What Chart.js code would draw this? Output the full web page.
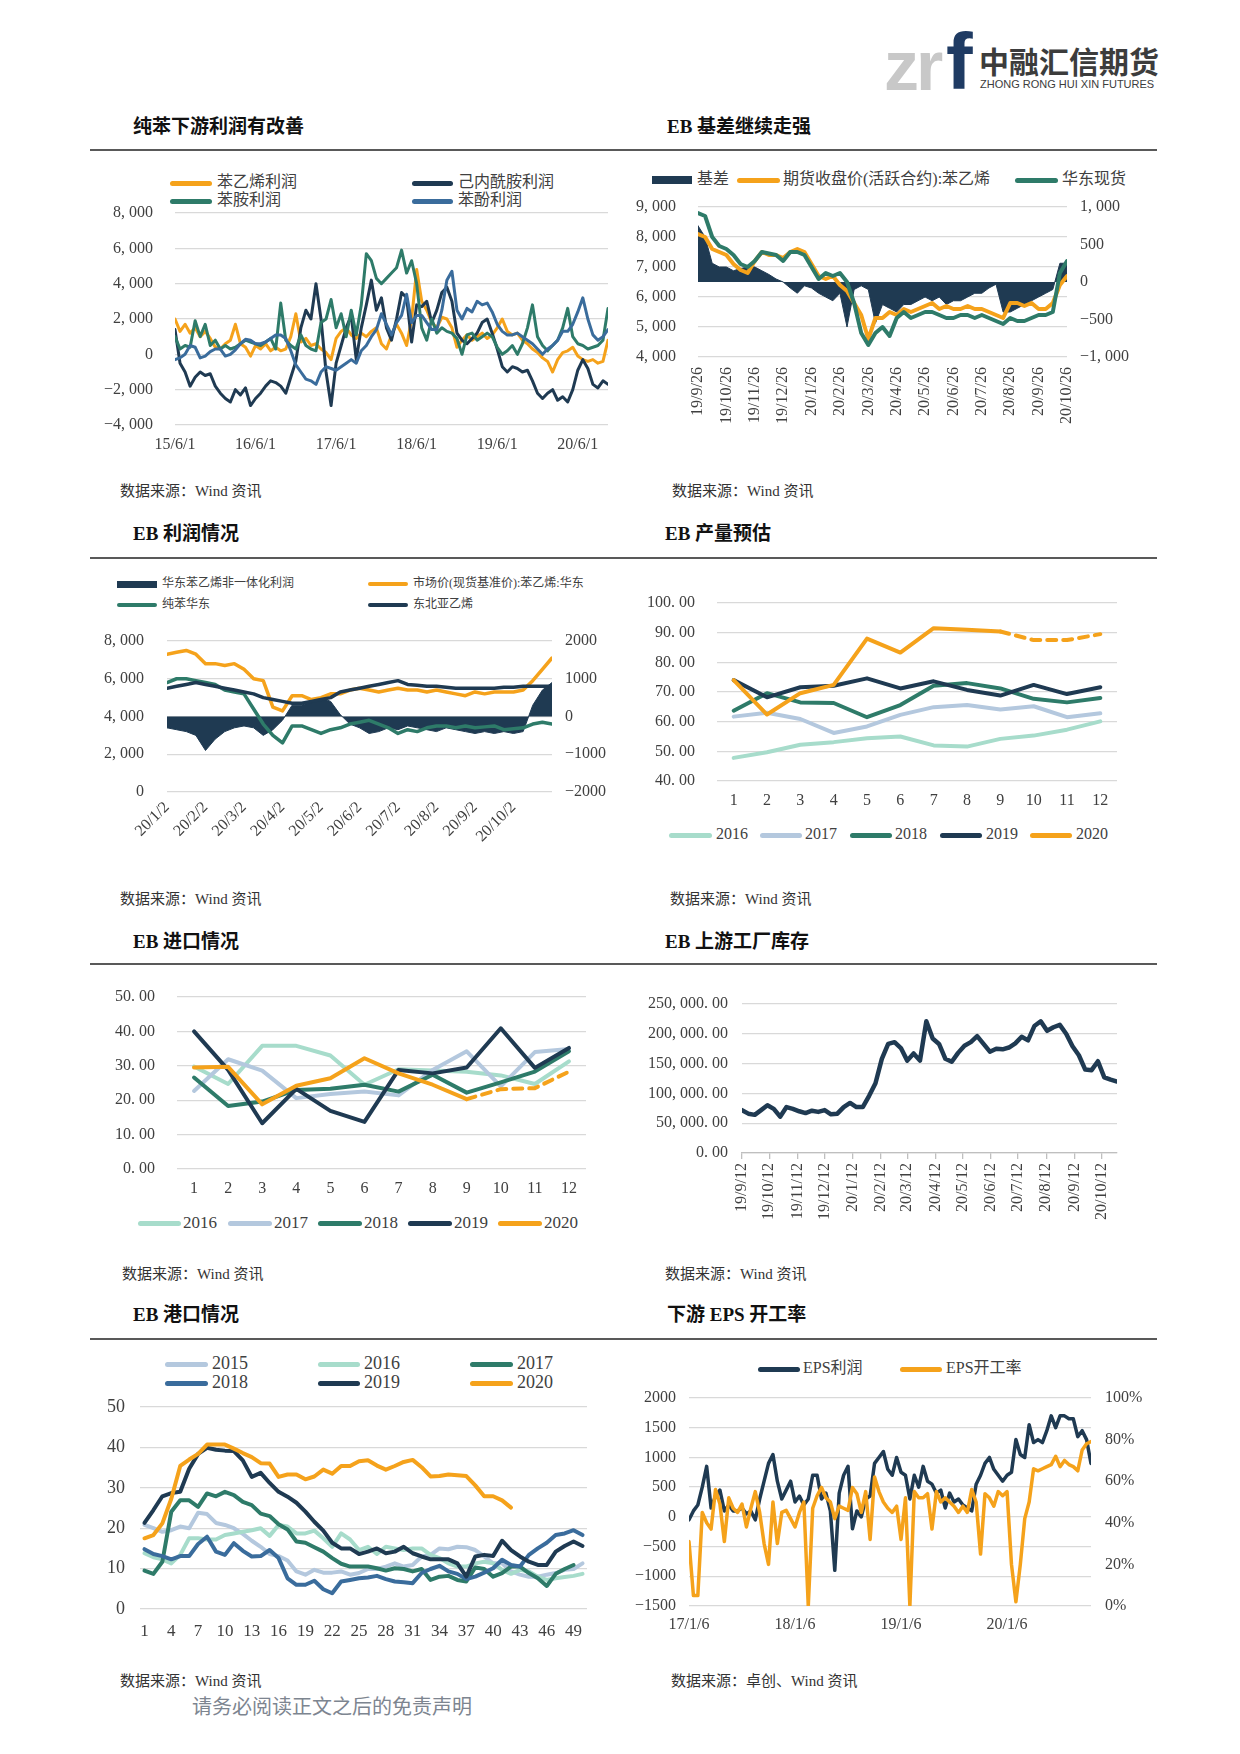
<!DOCTYPE html>
<html lang="zh-CN">
<head>
<meta charset="utf-8">
<title>苯乙烯产业链图表</title>
<script src="https://cdn.jsdelivr.net/npm/chart.js@4.4.1/dist/chart.umd.min.js"></script>
<style>
  body { margin: 0; background: #fff; }
  #page { position: relative; width: 1240px; height: 1754px; overflow: hidden; background: #fff;
          font-family: "Liberation Serif", "Noto Sans CJK SC", serif; color: #404040; }
  .t { position: absolute; white-space: nowrap; line-height: 1; }
  .title { font-size: 19px; font-weight: bold; color: #111; }
  .src { font-size: 15px; color: #333; }
  .rule { position: absolute; left: 90px; width: 1067px; height: 2px; background: #595959; }
</style>
</head>
<body>
<div id="page">
  <!-- logo -->
  <div class="t" style="left:884px;top:31px;font:bold 70px/1 'Liberation Sans',sans-serif;color:#c8c8c8;letter-spacing:-3px;">zr</div>
  <div class="t" style="left:946px;top:22px;font:bold 80px/1 'Liberation Sans',sans-serif;color:#1f3b63;">f</div>
  <div class="t" style="left:979px;top:45px;font:bold 30px/1 'Noto Sans CJK SC',sans-serif;color:#3c3c3c;">中融汇信期货</div>
  <div class="t" style="left:980px;top:79px;font:11px/1 'Liberation Sans',sans-serif;color:#3c3c3c;">ZHONG RONG HUI XIN FUTURES</div>

  <!-- section titles -->
  <div class="t title" style="left:133px;top:117px;">纯苯下游利润有改善</div>
  <div class="t title" style="left:667px;top:117px;">EB 基差继续走强</div>
  <div class="rule" style="top:149px;"></div>
  <div class="t title" style="left:133px;top:524px;">EB 利润情况</div>
  <div class="t title" style="left:665px;top:524px;">EB 产量预估</div>
  <div class="rule" style="top:557px;"></div>
  <div class="t title" style="left:133px;top:932px;">EB 进口情况</div>
  <div class="t title" style="left:665px;top:932px;">EB 上游工厂库存</div>
  <div class="rule" style="top:963px;"></div>
  <div class="t title" style="left:133px;top:1305px;">EB 港口情况</div>
  <div class="t title" style="left:667px;top:1305px;">下游 EPS 开工率</div>
  <div class="rule" style="top:1338px;"></div>

  <!-- sources -->
  <div class="t src" style="left:120px;top:484px;">数据来源：Wind 资讯</div>
  <div class="t src" style="left:672px;top:484px;">数据来源：Wind 资讯</div>
  <div class="t src" style="left:120px;top:892px;">数据来源：Wind 资讯</div>
  <div class="t src" style="left:670px;top:892px;">数据来源：Wind 资讯</div>
  <div class="t src" style="left:122px;top:1267px;">数据来源：Wind 资讯</div>
  <div class="t src" style="left:665px;top:1267px;">数据来源：Wind 资讯</div>
  <div class="t src" style="left:120px;top:1674px;">数据来源：Wind 资讯</div>
  <div class="t src" style="left:671px;top:1674px;">数据来源：卓创、Wind 资讯</div>

  <div class="t" style="left:192px;top:1697px;font-size:20px;color:#7d8590;">请务必阅读正文之后的免责声明</div>
</div>

<script>
// ---------- chart 1: 纯苯下游利润 (step = 3/4 month, 16 steps per year) ----------
const c1TickIdx = [0, 16, 32, 48, 64, 80];
const c1TickLabels = ['15/6/1', '16/6/1', '17/6/1', '18/6/1', '19/6/1', '20/6/1'];
const profitSM = [2000,1300,1700,1200,1500,1000,1300,900,400,300,
  600,800,1700,600,400,-100,500,300,600,200,
  400,200,300,1000,2300,700,900,500,600,300,
  100,-300,900,1300,1500,1100,900,1200,1000,1300,
  1500,600,300,1100,1700,1200,500,2000,4800,3000,
  2500,1800,1500,2100,2000,1500,400,800,1100,800,
  1000,1200,900,1100,1500,2000,1300,1100,1200,800,
  600,300,100,-200,-400,-1000,-300,100,200,400,
  -100,-300,-400,-300,-500,-400,800];
const profitCPL = [1400,-500,-1000,-1800,-1300,-1000,-1200,-1100,-1800,-2200,
  -2500,-2700,-2000,-2300,-1900,-2900,-2500,-2200,-1800,-1500,
  -1600,-1800,-2200,-1300,-400,1500,2500,2000,4000,2000,
  -1000,-2900,-500,500,1500,2200,-300,1500,2800,4200,
  2500,3200,1500,800,2000,3500,3200,700,2800,2700,
  3000,1800,2500,3500,3800,3000,1200,800,600,900,
  1200,1800,2000,1200,300,-700,-1000,-700,-800,-1000,
  -900,-1500,-2200,-2500,-2200,-2000,-2600,-2400,-2700,-2000,
  -900,-300,-800,-1700,-1900,-1500,-1700];
const profitAN = [1000,300,500,400,1900,1000,1700,500,800,300,
  500,300,400,600,800,700,600,500,700,900,
  300,2900,800,500,300,1100,500,300,200,1800,
  2000,3100,1500,2300,1000,2500,1100,2800,5700,5300,
  4300,4000,4300,4600,4900,5900,4600,5300,4000,1500,
  800,2000,1200,1500,1300,1200,900,0,1100,1200,
  800,1000,1200,1000,400,0,200,500,0,600,
  1500,2800,1000,500,200,500,800,1500,2600,1000,
  600,500,300,400,500,800,2600];
const profitPH = [-300,-200,0,500,400,-200,-100,150,300,300,
  -100,0,250,600,850,800,600,600,700,900,
  1100,1100,900,200,-600,-1000,-1400,-1500,-1700,-1000,
  -700,-800,-900,-700,-500,-300,-500,200,500,1000,
  1400,2300,1700,1100,1800,2200,3400,1800,2200,2200,
  1800,1400,1400,2500,4200,4700,2500,2000,2600,2400,
  3000,2800,2900,2400,1700,1300,1100,1100,1200,1000,
  800,600,300,0,300,500,800,1300,1300,1700,
  2400,3200,2000,1100,800,1000,1400];

// ---------- chart 2: EB 基差 (step = 1/4 month) ----------
const c2TickIdx = [0,4,8,12,16,20,24,28,32,36,40,44,48,52];
const c2TickLabels = ['19/9/26','19/10/26','19/11/26','19/12/26','20/1/26','20/2/26','20/3/26',
  '20/4/26','20/5/26','20/6/26','20/7/26','20/8/26','20/9/26','20/10/26'];
const futuresSM = [8100,8000,7600,7500,7400,7100,6900,6800,7200,7500,
  7400,7400,7300,7500,7600,7500,7100,6700,6600,6700,
  6400,6200,5800,5400,4600,5300,5300,5500,5400,5600,
  5500,5600,5700,5800,5600,5700,5600,5600,5700,5600,
  5600,5500,5400,5300,5800,5800,5700,5800,5600,5600,
  5800,6400,6700];
const spotEastSM = [8800,8700,8000,7700,7600,7400,7100,7000,7200,7500,
  7450,7400,7200,7500,7500,7400,7000,6600,6800,6700,
  6800,6500,5800,4800,4400,4800,5000,4700,5300,5500,
  5300,5400,5500,5500,5400,5300,5300,5400,5400,5300,
  5400,5300,5200,5100,5300,5200,5200,5300,5400,5400,
  5500,6800,7200];
const basisSM = [750,600,250,200,200,150,180,200,200,150,
  100,40,0,-80,-150,-50,-80,-150,-200,-250,
  -150,-600,-100,-50,-100,-550,-300,-350,-400,-300,
  -300,-250,-200,-250,-200,-300,-250,-250,-200,-150,
  -150,-80,-30,-400,-400,-350,-300,-250,-200,-150,
  -100,250,250];

// ---------- chart 3: EB 利润情况 (step = 1/4 month) ----------
const c3TickIdx = [0,4,8,12,16,20,24,28,32,36];
const c3TickLabels = ['20/1/2','20/2/2','20/3/2','20/4/2','20/5/2','20/6/2','20/7/2','20/8/2','20/9/2','20/10/2'];
const ebProfit = [-300,-350,-400,-500,-900,-600,-400,-300,-250,-300,
  -500,-350,-100,300,300,400,500,400,50,-200,
  -300,-450,-400,-300,-350,-250,-300,-350,-400,-300,
  -350,-400,-450,-400,-450,-400,-450,-400,300,700,
  900];
const marketSM = [7300,7400,7500,7300,6800,6800,6700,6800,6500,6000,
  5900,4500,4300,5100,5100,4900,5000,5200,5200,5400,
  5500,5400,5300,5400,5500,5400,5400,5300,5400,5300,
  5200,5100,5300,5200,5300,5300,5300,5400,5900,6500,
  7100];
const benzeneEast = [5800,6000,6000,5900,5800,5700,5400,5300,5200,4400,
  3600,3000,2600,3500,3500,3300,3100,3300,3400,3600,
  3700,3800,3600,3400,3100,3300,3200,3400,3500,3500,
  3400,3500,3400,3450,3500,3300,3350,3400,3600,3700,
  3600];
const ethyleneNEA = [5500,5600,5700,5800,5700,5600,5500,5400,5300,5200,
  5000,4900,4800,4700,4700,4800,4900,5000,5300,5400,
  5500,5600,5700,5800,5900,5700,5650,5600,5600,5550,
  5500,5500,5500,5500,5500,5550,5550,5600,5600,5600,
  5600];

// ---------- chart 4: EB 产量预估 ----------
const months = ['1','2','3','4','5','6','7','8','9','10','11','12'];
const out2016 = [47.8,49.7,52.2,53.1,54.4,55.0,52.0,51.6,54.2,55.3,57.3,60.1];
const out2017 = [61.7,63.0,60.9,56.2,58.4,62.3,64.9,65.6,64.1,65.2,61.5,62.8];
const out2018 = [63.7,69.6,66.5,66.3,61.5,65.6,72.1,73.0,71.2,67.7,66.5,68.0];
const out2019 = [74.0,68.2,71.6,72.1,74.6,71.2,73.6,70.7,68.8,72.4,69.3,71.6];
const out2020 = [74.0,62.4,69.6,72.4,88.0,83.3,91.5,91.0,90.4,87.5,87.5,89.5];

// ---------- chart 5: EB 进口情况 ----------
const imp2016 = [29.8,24.7,35.8,35.8,33.0,24.5,29.0,28.6,28.3,27.2,24.7,31.3];
const imp2017 = [22.7,31.9,28.6,20.6,21.8,22.5,21.4,28.8,34.2,24.0,34.0,34.9];
const imp2018 = [26.6,18.3,19.6,23.0,23.3,24.5,22.5,27.4,22.2,25.2,28.3,34.2];
const imp2019 = [40.0,28.8,13.3,23.3,16.9,13.7,28.8,27.8,29.5,40.9,29.4,35.2];
const imp2020 = [29.5,29.7,18.8,24.2,26.4,32.2,27.8,24.5,20.3,23.2,23.5,28.3];

// ---------- chart 6: EB 上游工厂库存 (weekly, x in days since 19/9/12) ----------
const invTickDays = [0,30,61,91,122,153,182,213,243,274,304,335,366,396];
const invTickLabels = ['19/9/12','19/10/12','19/11/12','19/12/12','20/1/12','20/2/12','20/3/12',
  '20/4/12','20/5/12','20/6/12','20/7/12','20/8/12','20/9/12','20/10/12'];
const inventory = [72000,66000,64000,72000,80000,74000,61000,77000,74000,70000,
  67000,71000,69000,72000,65000,66000,77000,84000,77000,77000,
  96000,117000,158000,183000,186000,176000,155000,167000,155000,221000,
  192000,183000,158000,153000,168000,180000,186000,196000,183000,170000,
  175000,174000,177000,184000,195000,189000,213000,221000,205000,211000,
  215000,200000,179000,164000,140000,139000,154000,127000,123000,120000];

// ---------- chart 7: EB 港口情况 (weeks) ----------
const weeks = [1,2,3,4,5,6,7,8,9,10,11,12,13,14,15,16,17,18,19,20,21,22,23,24,25,
  26,27,28,29,30,31,32,33,34,35,36,37,38,39,40,41,42,43,44,45,46,47,48,49,50];
const port2015 = [20.8,20.0,19.1,19.5,20.4,20.0,23.8,23.5,21.3,20.8,
  20.0,18.6,16.9,15.4,13.6,13.1,12.0,9.3,8.5,9.7,
  9.0,9.0,9.3,8.5,8.9,9.9,9.9,10.5,11.3,10.5,
  10.9,13.0,13.4,15.0,14.8,15.4,15.3,14.6,13.0,11.3,
  11.3,9.3,8.5,8.0,8.0,8.5,8.9,9.7,9.9,11.3];
const port2016 = [13.8,12.8,12.3,11.3,13.4,17.5,17.5,17.2,17.2,18.3,
  18.7,19.1,19.5,20.0,18.1,20.8,20.4,18.7,18.7,19.4,
  17.5,15.4,18.7,17.2,14.6,15.4,13.6,15.4,15.0,14.6,
  15.0,15.0,13.4,12.6,11.3,10.5,10.5,11.3,11.7,11.3,
  9.7,8.7,9.7,9.3,8.0,7.2,7.6,7.9,8.2,8.7];
const port2017 = [9.5,8.7,11.7,24.1,26.9,26.9,25.3,28.6,27.9,29.0,
  28.2,26.5,25.7,23.6,23.0,21.0,19.7,16.7,16.4,15.3,
  14.2,12.6,11.2,10.5,10.5,10.5,10.1,9.5,10.1,9.9,
  9.3,9.9,7.2,8.0,8.2,7.2,6.8,10.3,9.9,8.0,
  8.9,10.5,10.5,8.9,7.6,5.7,8.7,9.9,10.9,null];
const port2018 = [14.8,13.6,13.1,12.3,13.1,13.1,16.1,17.9,14.2,13.4,
  16.3,14.4,13.0,13.1,14.6,12.6,7.6,6.0,6.0,7.0,
  4.9,3.9,6.8,7.2,7.6,7.8,8.2,7.4,6.8,6.6,
  6.4,8.9,9.9,10.7,9.3,8.7,7.4,8.0,9.0,10.1,
  12.2,10.9,10.5,13.4,15.0,16.4,18.3,18.7,19.5,18.3];
const port2019 = [21.3,24.5,27.9,28.7,29.0,34.7,38.4,39.9,39.4,39.2,
  39.1,36.8,32.7,33.7,31.2,29.0,27.8,26.3,24.1,21.6,
  19.4,16.4,15.0,15.0,13.6,14.2,15.0,13.8,14.2,15.4,
  13.8,13.0,12.3,12.3,12.3,11.3,8.0,13.0,13.4,13.1,
  16.9,14.6,13.0,11.7,10.9,10.9,14.2,15.6,16.7,15.6];
const port2020 = [17.5,18.3,21.2,27.3,35.4,37.0,38.4,40.7,40.7,40.7,
  39.7,38.6,37.6,36.1,36.0,32.7,33.3,33.3,32.1,32.8,
  34.5,33.5,35.4,35.4,36.6,36.8,35.5,34.5,35.4,36.4,
  36.9,35.1,32.8,32.9,33.3,33.1,32.9,30.6,27.9,27.9,
  26.9,25.1];

// ---------- chart 8: 下游 EPS (step = half month, 24 per year) ----------
const c8TickIdx = [0, 24, 48, 72];
const c8TickLabels = ['17/1/6', '18/1/6', '19/1/6', '20/1/6'];
const epsProfit = [-50,100,200,500,850,150,350,450,100,200,
  100,100,150,50,100,-50,300,600,900,1050,
  600,300,450,600,250,350,200,300,700,700,
  300,400,100,-900,400,700,850,-200,100,0,
  300,350,900,1000,1100,800,700,1000,750,700,
  300,700,500,850,600,550,400,450,150,400,
  250,300,200,150,100,550,700,900,1000,800,
  700,600,700,750,1300,1050,1000,1550,1250,1300,
  1250,1450,1700,1500,1700,1700,1650,1650,1350,1450,
  1300,900];
const epsRate = [31,5,5,45,40,37,56,49,31,52,
  47,45,49,38,47,55,45,30,20,50,
  30,45,46,42,38,45,50,0,47,53,
  57,52,50,42,48,47,46,57,54,45,
  55,32,62,55,50,47,45,48,32,52,
  0,55,52,52,54,37,55,50,52,50,
  48,45,48,45,56,50,25,54,52,48,
  55,53,55,20,2,20,42,50,66,65,
  66,67,68,72,67,70,68,67,65,75,
  78,79];

// ---------- styling ----------
const FONT = '"Liberation Serif", "Noto Sans CJK SC", serif';
const ORANGE = '#F5A21B', NAVY = '#1F3A52', GREEN = '#2E7B69', BLUE = '#3A6C9C',
      TEAL = '#A7DCCB', LBLUE = '#B4C8DE', GRID = '#D9D9D9';

Chart.defaults.font.family = FONT;
Chart.defaults.font.size = 16;
Chart.defaults.color = '#404040';

const page = document.getElementById('page');

function makeCanvas(l, t, w, h) {
  const d = document.createElement('div');
  d.style.cssText = 'position:absolute;left:' + l + 'px;top:' + t + 'px;width:' + w + 'px;height:' + h + 'px;';
  const c = document.createElement('canvas');
  d.appendChild(c);
  page.appendChild(d);
  return c;
}

function legend(x1, x2, y, color, thick, label, tx, size, square) {
  const ln = document.createElement('div');
  ln.style.cssText = 'position:absolute;left:' + x1 + 'px;top:' + (y - thick / 2) + 'px;width:' + (x2 - x1) +
    'px;height:' + thick + 'px;background:' + color + ';border-radius:' + (square ? 0 : thick / 2) + 'px;';
  page.appendChild(ln);
  const tt = document.createElement('div');
  tt.className = 't';
  tt.style.cssText = 'left:' + tx + 'px;top:' + (y - size / 2 - 1) + 'px;font-size:' + size + 'px;line-height:' + size + 'px;color:#404040;';
  tt.textContent = label;
  page.appendChild(tt);
}

function minus(s) { return s.replace('-', '\u2212'); }
function fmtComma(v) { return minus(v.toLocaleString('en-US').replace(/,/g, ', ')); }
function fmtPlain(v) { return minus(String(v)); }
function fmtDec(v) { return v.toFixed(2).replace('.', '. '); }
function fmtBig(v) {
  return v.toLocaleString('en-US', { minimumFractionDigits: 2, maximumFractionDigits: 2 })
    .replace(/,/g, ', ').replace('.', '. ');
}

function yScale(position, min, max, step, width, pad, fmt, grid, size) {
  return {
    position: position, min: min, max: max,
    ticks: { stepSize: step, padding: pad, callback: fmt, font: { size: size || 16 } },
    grid: { display: grid, color: GRID, lineWidth: 1.3, drawTicks: false },
    border: { display: false },
    afterFit: function (s) { s.width = width; }
  };
}

function xIndex(max, tickIdx, labels, height, pad, rot) {
  return {
    type: 'linear', min: 0, max: max,
    afterBuildTicks: function (s) { s.ticks = tickIdx.map(function (v) { return { value: v }; }); },
    ticks: { autoSkip: false, padding: pad, minRotation: rot, maxRotation: rot,
             callback: function (v, i) { return labels[i]; } },
    grid: { display: false, drawTicks: false },
    border: { display: false },
    afterFit: function (s) { s.height = height; }
  };
}

function xCategory(height, pad, size, every) {
  return {
    type: 'category', offset: true,
    ticks: { autoSkip: false, padding: pad, maxRotation: 0, font: { size: size || 16 },
             callback: function (v, i) { return i % (every || 1) === 0 ? this.getLabelForValue(v) : ''; } },
    grid: { display: false, drawTicks: false },
    border: { display: false },
    afterFit: function (s) { s.height = height; }
  };
}

function indexed(values) { return values.map(function (v, i) { return { x: i, y: v }; }); }

function line(data, color, width, order, extra) {
  const ds = { data: data, borderColor: color, backgroundColor: color, borderWidth: width,
               pointRadius: 0, fill: false, tension: 0, order: order,
               borderJoinStyle: 'round', borderCapStyle: 'round' };
  return Object.assign(ds, extra || {});
}

// padTop must be >= y tick padding + half label height, otherwise Chart.js grows it
function options(padTop, padRight, scales) {
  return {
    responsive: true, maintainAspectRatio: false, animation: false,
    layout: { padding: { top: padTop, right: padRight, left: 0, bottom: 0 } },
    plugins: { legend: { display: false }, tooltip: { enabled: false } },
    scales: scales
  };
}

const dash2020 = { segment: { borderDash: function (ctx) { return ctx.p0DataIndex >= 8 ? [9, 7] : undefined; } } };

// ---------- chart 1 ----------
legend(170, 212, 183, ORANGE, 5, '苯乙烯利润', 217, 16);
legend(412, 453, 183, NAVY, 5, '己内酰胺利润', 458, 16);
legend(170, 212, 201, GREEN, 5, '苯胺利润', 217, 16);
legend(412, 453, 201, BLUE, 5, '苯酚利润', 458, 16);
new Chart(makeCanvas(100, 179, 520, 281), {
  type: 'line',
  data: { datasets: [
    line(indexed(profitSM), ORANGE, 3, 4),
    line(indexed(profitCPL), NAVY, 3, 3),
    line(indexed(profitAN), GREEN, 3, 2),
    line(indexed(profitPH), BLUE, 3, 1)
  ] },
  options: options(34, 12, {
    x: xIndex(86, c1TickIdx, c1TickLabels, 35, 10, 0),
    y: yScale('left', -4000, 8000, 2000, 75, 22, fmtComma, true)
  })
});

// ---------- chart 2 ----------
legend(652, 692, 180, NAVY, 8, '基差', 697, 16, true);
legend(737, 780, 180, ORANGE, 5, '期货收盘价(活跃合约):苯乙烯', 783, 16);
legend(1015, 1058, 180, GREEN, 5, '华东现货', 1062, 16);
new Chart(makeCanvas(620, 173, 520, 277), {
  type: 'line',
  data: { datasets: [
    line(indexed(basisSM), NAVY, 1, 3, { yAxisID: 'y2', fill: 'origin' }),
    line(indexed(futuresSM), ORANGE, 4, 2),
    line(indexed(spotEastSM), GREEN, 4, 1)
  ] },
  options: options(34, 0, {
    x: xIndex(52, c2TickIdx, c2TickLabels, 93, 10, 90),
    y: yScale('left', 4000, 9000, 1000, 78, 22, fmtComma, true),
    y2: yScale('right', -1000, 1000, 500, 73, 13, fmtComma, false)
  })
});

// ---------- chart 3 ----------
legend(117, 157, 584, NAVY, 7, '华东苯乙烯非一体化利润', 162, 12, true);
legend(368, 408, 584, ORANGE, 4, '市场价(现货基准价):苯乙烯:华东', 413, 12);
legend(117, 157, 605, GREEN, 4, '纯苯华东', 162, 12);
legend(368, 408, 605, NAVY, 4, '东北亚乙烯', 413, 12);
new Chart(makeCanvas(95, 606, 525, 274), {
  type: 'line',
  data: { datasets: [
    line(indexed(ebProfit), NAVY, 1, 4, { yAxisID: 'y2', fill: 'origin' }),
    line(indexed(marketSM), ORANGE, 3.5, 3),
    line(indexed(benzeneEast), GREEN, 3.5, 2),
    line(indexed(ethyleneNEA), NAVY, 3.5, 1)
  ] },
  options: options(35, 0, {
    x: xIndex(40, c3TickIdx, c3TickLabels, 88, 6, 45),
    y: yScale('left', 0, 8000, 2000, 72, 23, fmtComma, true),
    y2: yScale('right', -2000, 2000, 1000, 68, 13, fmtPlain, false)
  })
});

// ---------- chart 4 ----------
[[669, 712, 716, TEAL, '2016'], [760, 802, 805, LBLUE, '2017'], [850, 892, 895, GREEN, '2018'],
 [940, 982, 986, NAVY, '2019'], [1030, 1072, 1076, ORANGE, '2020']].forEach(function (it) {
  legend(it[0], it[1], 835, it[3], 5, it[4], it[2], 16);
});
new Chart(makeCanvas(625, 569, 505, 246), {
  type: 'line',
  data: { labels: months, datasets: [
    line(out2016, TEAL, 4, 5),
    line(out2017, LBLUE, 4, 4),
    line(out2018, GREEN, 4, 3),
    line(out2019, NAVY, 4, 2),
    line(out2020, ORANGE, 4, 1, dash2020)
  ] },
  options: options(34, 13, {
    x: xCategory(34, 10),
    y: yScale('left', 40, 100, 10, 92, 22, fmtDec, true)
  })
});

// ---------- chart 5 ----------
[[138, 181, 183, TEAL, '2016'], [228, 272, 274, LBLUE, '2017'], [318, 362, 364, GREEN, '2018'],
 [408, 452, 454, NAVY, '2019'], [498, 542, 544, ORANGE, '2020']].forEach(function (it) {
  legend(it[0], it[1], 1223, it[3], 5, it[4], it[2], 17);
});
new Chart(makeCanvas(100, 963, 500, 242), {
  type: 'line',
  data: { labels: months, datasets: [
    line(imp2016, TEAL, 4, 5),
    line(imp2017, LBLUE, 4, 4),
    line(imp2018, GREEN, 4, 3),
    line(imp2019, NAVY, 4, 2),
    line(imp2020, ORANGE, 4, 1, dash2020)
  ] },
  options: options(34, 14, {
    x: xCategory(36, 10),
    y: yScale('left', 0, 50, 10, 77, 22, fmtDec, true)
  })
});

// ---------- chart 6 ----------
new Chart(makeCanvas(625, 978, 505, 272), {
  type: 'line',
  data: { datasets: [
    line(inventory.map(function (v, i) { return { x: i * 7, y: v }; }), NAVY, 4.5, 1)
  ] },
  options: options(26, 13, {
    x: {
      type: 'linear', min: 0, max: 413,
      afterBuildTicks: function (s) { s.ticks = invTickDays.map(function (v) { return { value: v }; }); },
      ticks: { autoSkip: false, padding: 4, minRotation: 90, maxRotation: 90,
               callback: function (v, i) { return invTickLabels[i]; } },
      grid: { drawOnChartArea: false, drawTicks: true, tickLength: 6, color: '#BFBFBF', lineWidth: 1.3 },
      border: { display: true, color: '#BFBFBF', width: 1.3 },
      afterFit: function (s) { s.height = 97; }
    },
    y: yScale('left', 0, 250000, 50000, 117, 14, fmtBig, true)
  })
});

// ---------- chart 7 ----------
[[165, 208, 212, 1364, LBLUE, '2015'], [318, 360, 364, 1364, TEAL, '2016'], [470, 513, 517, 1364, GREEN, '2017'],
 [165, 208, 212, 1383, BLUE, '2018'], [318, 360, 364, 1383, NAVY, '2019'], [470, 513, 517, 1383, ORANGE, '2020']]
  .forEach(function (it) { legend(it[0], it[1], it[3], it[4], 5, it[5], it[2], 18); });
new Chart(makeCanvas(95, 1379, 505, 271), {
  type: 'line',
  data: { labels: weeks, datasets: [
    line(port2015, LBLUE, 4, 6),
    line(port2016, TEAL, 4, 5),
    line(port2017, GREEN, 4, 4),
    line(port2018, BLUE, 4, 3),
    line(port2019, NAVY, 4, 2),
    line(port2020, ORANGE, 4, 1)
  ] },
  options: options(28, 13, {
    x: xCategory(41, 12, 17, 3),
    y: yScale('left', 0, 50, 10, 45, 15, fmtPlain, true, 18)
  })
});

// ---------- chart 8 ----------
legend(758, 800, 1369, NAVY, 5, 'EPS利润', 803, 16);
legend(900, 942, 1369, ORANGE, 5, 'EPS开工率', 946, 16);
new Chart(makeCanvas(620, 1371, 530, 274), {
  type: 'line',
  data: { datasets: [
    line(indexed(epsProfit), NAVY, 3.5, 2),
    line(indexed(epsRate), ORANGE, 3.5, 1, { yAxisID: 'y2' })
  ] },
  options: options(27, 0, {
    x: xIndex(91, c8TickIdx, c8TickLabels, 39, 9, 0),
    y: yScale('left', -1500, 2000, 500, 69, 13, fmtPlain, true),
    y2: yScale('right', 0, 100, 20, 59, 14, function (v) { return v + '%'; }, false)
  })
});
</script>
</body>
</html>
